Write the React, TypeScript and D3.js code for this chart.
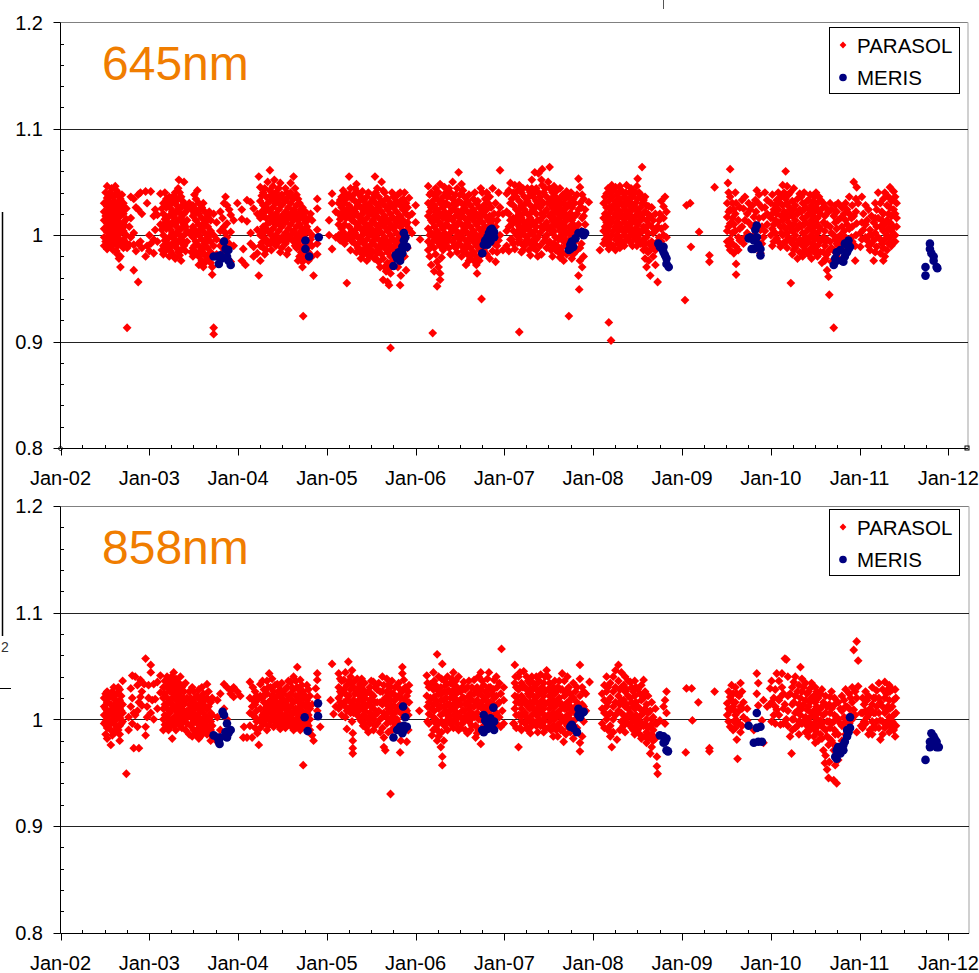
import React from "react";
import * as d3 from "d3";

// x positions are months since 1 Jan 2002; columns are [month, value, value, ...]
const xTickLabels = ["Jan-02","Jan-03","Jan-04","Jan-05","Jan-06","Jan-07","Jan-08","Jan-09","Jan-10","Jan-11","Jan-12"];
const yTickValues = [0.8, 0.9, 1.0, 1.1, 1.2];
const yTickLabels = ["0.8", "0.9", "1", "1.1", "1.2"];
const gridValues = [0.9, 1.0, 1.1];
const seriesNames = ["PARASOL", "MERIS"];
const panelTitles = ["645nm", "858nm"];

// ---------------- 645nm PARASOL ----------------
const p645_2002 = [
[5.9,1.030,1.022,1.014,1.006,0.998,0.990],
[6.3,1.046,1.035,1.027,1.019,1.011,1.003,0.995,0.987],
[6.7,1.040,1.031,1.024,1.016,1.008,1.000,0.992],
[7.1,1.036,1.028,1.020,1.012,1.004,0.996,0.986],
[7.4,1.046,1.038,1.025,1.017,1.009,1.001,0.993],
[7.7,1.040,1.030,1.022,1.014,1.006,0.998,0.990,0.982],
[8.1,1.034,1.026,1.018,1.010,1.002,0.994,0.980,0.970],
[8.5,1.030,1.020,1.012,1.004,0.996,0.988],
[8.9,1.025,1.015,1.000,0.992],
[9.0,0.913,0.988],
[9.3,1.008,0.991],
[9.5,1.036,1.016,0.998],
[9.9,1.034,1.002,0.991,0.967],
[10.2,1.026,0.985],
[10.5,1.024,1.038,0.992,0.956],
[10.8,1.040,0.994],
[11.0,0.988,1.020],
[11.5,1.041,0.980],
[11.7,1.030,0.990],
[6.1,1.040,1.030,1.018,1.006,0.994],
[6.5,1.036,1.022,1.012,0.998,0.989],
[6.9,1.044,1.027,1.013,1.003,0.990],
[7.25,1.032,1.015,1.007,0.992],
[7.55,1.042,1.021,1.003,0.985],
[7.9,1.036,1.018,1.009,0.995,0.978],
[8.3,1.038,1.023,1.007,0.991],
[8.7,1.026,1.009,0.994],
];
const p645_2003 = [
[12.0,1.000,0.985],
[12.2,1.041,0.992],
[12.6,0.996,0.983,1.018],
[12.8,1.024,1.005],
[13.1,1.019,0.994],
[13.5,1.039,1.010],
[13.9,1.030,1.020,1.010,1.000,0.990,0.982],
[14.3,1.034,1.026,1.016,1.006,0.996,0.986],
[14.7,1.036,1.028,1.018,1.008,0.998,0.988,0.980],
[15.1,1.032,1.022,1.012,1.002,0.992,0.982],
[15.5,1.040,1.030,1.020,1.010,1.000,0.990,0.978],
[15.9,1.044,1.034,1.024,1.014,1.004,0.994,0.984],
[16.0,1.052],
[16.3,1.036,1.026,1.016,1.006,0.996,0.986,0.976],
[16.7,1.050,1.030,1.020,1.010,1.000,0.990],
[17.1,1.026,1.014,1.004,0.994],
[17.4,1.030,1.002],
[17.9,1.028,1.018,1.008,0.998,0.988,0.980],
[18.3,1.034,1.024,1.014,1.004,0.994,0.984],
[18.5,1.042],
[18.7,1.030,1.020,1.010,1.000,0.990,0.980,0.972],
[19.1,1.026,1.016,1.006,0.996,0.986,0.976],
[19.5,1.022,1.012,1.002,0.992,0.982,0.974],
[19.9,1.018,1.008,0.998,0.988,0.978],
[20.3,1.014,1.004,0.994,0.984,0.974],
[20.5,0.963,0.970],
[20.7,1.020,1.000,0.990,0.913,0.907],
[21.1,1.012,0.996,0.982],
[21.6,1.022,1.004,0.990],
[22.1,1.030,1.008,0.985],
[22.5,1.028,1.011,0.998],
[23.0,1.019,1.003,0.975],
[23.4,1.014,0.990],
[23.9,1.030],
[13.7,1.025,1.005,0.986],
[14.1,1.040,1.015,0.995],
[14.5,1.030,1.012,0.992],
[14.9,1.025,1.005,0.985],
[15.3,1.037,1.017,0.997],
[15.7,1.028,1.008,0.988],
[16.1,1.040,1.021,1.000,0.981],
[16.5,1.032,1.012,0.992],
[16.9,1.022,1.008,0.985],
[17.7,1.024,1.004,0.984],
[18.1,1.038,1.020,1.000,0.990],
[18.9,1.025,1.005,0.985],
[19.3,1.030,1.008,0.988,0.970],
[19.7,1.014,0.994,0.980],
[20.1,1.022,1.000,0.979],
[21.9,1.016,0.994],
[22.3,1.036,1.002],
[22.8,1.024,0.992],
];
const p645_2004 = [
[24.5,1.024,1.015,0.976],
[24.7,0.987],
[25.0,0.972],
[25.2,1.033,1.013],
[25.7,1.031,1.002,0.992],
[26.1,1.025,0.980,0.989],
[26.6,1.020,1.005,0.983],
[26.8,1.055,0.962],
[27.0,1.045,1.032,1.016,1.000,0.990,0.976],
[27.4,1.040,1.028,1.018,1.008,0.998,0.988],
[27.8,1.036,1.026,1.016,1.006,0.996,0.986],
[28.3,1.061,1.042,1.032,1.022,1.012,1.002,0.992],
[28.7,1.046,1.036,1.026,1.016,1.006,0.996],
[29.1,1.040,1.030,1.020,1.010,1.000,0.990],
[29.5,1.044,1.034,1.024,1.014,1.004,0.994],
[29.9,1.038,1.028,1.018,1.008,0.998,0.988],
[30.4,1.044,1.032,1.022,1.012,1.002,0.992],
[30.8,1.036,1.026,1.016,1.006,0.996,0.986],
[31.1,1.049,1.040,1.030,1.020,1.010,1.000],
[31.5,1.055,1.034,1.024,1.014,1.004,0.994],
[31.9,1.038,1.028,1.018,1.008,0.998,0.988],
[32.3,1.030,1.020,1.010,1.000,0.990,0.980],
[32.7,1.026,1.016,1.006,0.996,0.985,0.975,0.970],
[32.8,0.924],
[33.1,1.022,1.012,1.002,0.992,0.982],
[33.5,1.015,1.004,0.994,0.984,0.976],
[34.0,1.014,1.000,0.990,0.980],
[34.2,0.962],
[34.7,1.034,1.025,1.005,0.992,0.982],
[27.2,1.037,1.022,1.004,0.993],
[27.6,1.044,1.022,1.003,0.982],
[28.0,1.050,1.030,1.011,0.992],
[28.5,1.038,1.018,1.000,0.986],
[28.9,1.052,1.033,1.013,0.993],
[29.3,1.036,1.016,0.996],
[29.7,1.049,1.029,1.009,0.984],
[30.1,1.034,1.014,0.995],
[30.6,1.040,1.018,0.998,0.982],
[31.3,1.036,1.016,0.996],
[31.7,1.044,1.022,1.002,0.990],
[32.1,1.034,1.014,0.994,0.976],
[32.5,1.024,1.004,0.984],
[32.9,1.018,0.998,0.978],
[33.3,1.008,0.988],
[33.8,1.020,0.996],
];
const p645_2005 = [
[36.3,1.014,1.000],
[36.7,1.039,1.030,0.987],
[37.2,1.022,0.998],
[37.6,1.030,1.020,1.010,1.000],
[38.0,1.036,1.026,1.016,1.006,0.996],
[38.4,1.040,1.030,1.020,1.010,1.000,0.992],
[38.7,0.955,1.024],
[39.0,1.055,1.038,1.028,1.018,1.008,0.998],
[39.4,1.034,1.024,1.014,1.004,0.994],
[39.8,1.044,1.032,1.022,1.012,1.002,0.992],
[40.2,1.040,1.028,1.018,1.008,0.998,0.988],
[40.6,1.036,1.026,1.016,1.006,0.996,0.986,0.978],
[41.0,1.032,1.022,1.012,1.002,0.992,0.982],
[41.4,1.036,1.026,1.016,1.006,0.996,0.986,0.976],
[41.8,1.030,1.020,1.010,1.000,0.990,0.980],
[42.2,1.034,1.024,1.014,1.004,0.994,0.984],
[42.5,1.055],
[42.6,1.040,1.030,1.020,1.010,1.000,0.990,0.978],
[43.0,1.036,1.026,1.016,1.006,0.996,0.986,0.975],
[43.4,1.050,1.032,1.022,1.012,1.002,0.992,0.982],
[43.6,0.958],
[43.8,1.040,1.028,1.018,1.008,0.998,0.988,0.970],
[44.2,1.034,1.024,1.014,1.004,0.994,0.984,0.974,0.956],
[44.4,0.953],
[44.6,1.030,1.020,1.010,1.000,0.990,0.980,0.964,0.894],
[45.0,1.036,1.026,1.016,1.006,0.996,0.986],
[45.4,1.032,1.022,1.012,1.002,0.992,0.980],
[45.9,1.040,1.028,1.018,1.008,0.998,0.988,0.953],
[46.3,1.034,1.024,1.014,1.004,0.994],
[46.7,1.030,1.020,1.010,0.967],
[47.1,1.035,1.018,1.006],
[47.5,1.020,1.002],
[48.0,1.028,1.012],
[48.6,0.996],
[37.8,1.033,1.015,0.995],
[38.2,1.042,1.022,1.003],
[38.6,1.034,1.016,0.996],
[39.2,1.044,1.022,1.002,0.986],
[39.6,1.038,1.018,0.998],
[40.0,1.048,1.026,1.006,0.984],
[40.4,1.032,1.012,0.993],
[40.8,1.041,1.020,1.000,0.982],
[41.2,1.028,1.008,0.988],
[41.6,1.040,1.022,1.002,0.982],
[42.0,1.026,1.006,0.986],
[42.4,1.038,1.018,0.998,0.978],
[42.8,1.044,1.024,1.004,0.983],
[43.2,1.030,1.010,0.990,0.970],
[43.6,1.042,1.016,0.996,0.978],
[44.0,1.034,1.012,0.992,0.966],
[44.4,1.026,1.006,0.986,0.969],
[44.8,1.040,1.016,0.996,0.975],
[45.2,1.028,1.008,0.990],
[45.6,1.038,1.016,0.996,0.970],
[46.0,1.032,1.012,0.992,0.962],
[46.5,1.040,1.026,0.998,0.980],
[46.9,1.026,1.012,0.988],
];
const p645_2006 = [
[49.7,1.046,1.030,1.018,1.006,0.994,0.986],
[50.1,1.040,1.026,1.014,1.002,0.990,0.972],
[50.3,0.908],
[50.5,1.038,1.028,1.018,1.008,0.998,0.988,0.966],
[50.9,1.034,1.024,1.014,1.004,0.994,0.975,0.952],
[51.3,1.048,1.030,1.020,1.010,1.000,0.990,0.964,0.958],
[51.7,1.036,1.026,1.016,1.006,0.996,0.986],
[52.1,1.040,1.030,1.020,1.010,1.000],
[52.5,1.044,1.028,1.018,1.008,0.998,0.988],
[53.0,1.050,1.034,1.024,1.014,1.004,0.994],
[53.4,1.038,1.028,1.018,1.008,0.998,0.988],
[53.8,1.059,1.032,1.022,1.012,1.002,0.992],
[54.2,1.048,1.030,1.020,1.010,1.000,0.990,0.980],
[54.6,1.036,1.026,1.016,1.006,0.996,0.986],
[55.0,1.032,1.022,1.012,1.002,0.992,0.982],
[55.4,1.028,1.018,1.008,0.998,0.988,0.978],
[55.8,1.034,1.024,1.014,1.004,0.994,0.984],
[56.2,1.030,1.020,1.010,1.000,0.990,0.980,0.972],
[56.3,0.964],
[56.6,1.026,1.016,1.006,0.996,0.986,0.976],
[56.9,0.940],
[57.0,1.040,1.022,1.012,1.002,0.992],
[57.4,1.034,1.018,1.008,0.998],
[57.8,1.030,1.014,1.004,0.994],
[58.2,1.026,1.010,1.000],
[58.6,1.020,1.002,0.992],
[59.0,1.014,0.990,0.984],
[59.4,1.061,1.026,1.000],
[59.8,1.020,0.986],
[49.9,1.038,1.022,1.000,0.980],
[50.3,1.032,1.012,0.994],
[50.7,1.044,1.022,1.002,0.982],
[51.1,1.040,1.018,0.997,0.970],
[51.5,1.032,1.010,0.992,0.979],
[51.9,1.045,1.022,1.002,0.990],
[52.3,1.036,1.014,0.994],
[52.7,1.040,1.022,1.002,0.982],
[53.2,1.030,1.009,0.990],
[53.6,1.044,1.022,1.003,0.984],
[54.0,1.038,1.016,0.996],
[54.4,1.042,1.024,1.004,0.985],
[54.8,1.030,1.010,0.990,0.972],
[55.2,1.038,1.016,0.996,0.976],
[55.6,1.022,1.002,0.983],
[56.0,1.040,1.018,0.997,0.975],
[56.4,1.032,1.012,0.992],
[56.8,1.044,1.020,1.000,0.981],
[57.2,1.028,1.006,0.986],
[57.6,1.040,1.024,1.000,0.982],
[58.0,1.036,1.018,0.996,0.978],
[58.4,1.044,1.014,0.985],
[58.8,1.030,1.008,0.975],
[59.2,1.040,1.020,0.995],
];
const p645_2007 = [
[60.3,1.039,1.022,1.004,0.990],
[60.8,1.049,1.030,1.014,0.996],
[61.2,1.040,1.028,1.016,1.004,0.992],
[61.4,1.047,0.987],
[61.6,1.036,1.024,1.012,1.000],
[62.0,1.047,1.032,1.020,1.008,0.996,0.909],
[62.3,1.040,1.028,1.016,1.004,0.992,0.984],
[62.7,1.036,1.024,1.012,1.000,0.990],
[63.1,1.044,1.032,1.020,1.008,0.996],
[63.5,1.040,1.028,1.016,1.004,0.992,0.981],
[63.7,1.052],
[63.9,1.036,1.024,1.012,1.000,0.988],
[64.1,1.059],
[64.3,1.044,1.032,1.020,1.008,0.996,0.986],
[64.6,1.058,1.040],
[64.8,1.036,1.026,1.014,1.002,0.990],
[65.1,1.062,1.047],
[65.3,1.040,1.030,1.018,1.006,0.994],
[65.7,1.036,1.024,1.012,1.000,0.988],
[66.1,1.064,1.044,1.030,1.018,1.006,0.994],
[66.5,1.040,1.026,1.014,1.002,0.990,0.980],
[66.9,1.036,1.022,1.010,0.998,0.986],
[67.3,1.032,1.020,1.008,0.996,0.984],
[67.7,1.036,1.024,1.012,1.000,0.988],
[68.0,1.030,1.018,1.006,0.994,0.976],
[68.4,1.041,1.026,1.014,1.002,0.990,0.982],
[68.7,0.924],
[68.8,1.030,1.020,1.008,0.996,0.984],
[69.1,1.026,1.014,1.002,0.990,0.978],
[69.5,1.030,1.018,1.006,0.994,0.984],
[70.0,1.053,1.024,1.010,0.962],
[70.1,0.949],
[70.2,1.045,1.030,0.976,0.988],
[70.5,1.038,1.016,0.970],
[70.9,1.024,1.010],
[71.4,1.031],
[60.6,1.042,1.020,1.008,0.985],
[61.0,1.034,1.010,0.996],
[61.8,1.042,1.018,1.004,0.993],
[62.2,1.026,1.014,1.000],
[62.5,1.044,1.020,1.008,0.986],
[62.9,1.030,1.006,0.994],
[63.3,1.036,1.014,1.000,0.986],
[63.7,1.044,1.022,1.010,0.994],
[64.1,1.040,1.026,1.004,0.992],
[64.5,1.030,1.014,0.998,0.980],
[65.0,1.052,1.032,1.020,1.008,0.982],
[65.5,1.044,1.022,1.010,0.998],
[65.9,1.050,1.030,1.006,0.993],
[66.3,1.034,1.020,1.008,0.986],
[66.7,1.046,1.030,1.016,1.004,0.992],
[67.1,1.042,1.026,1.014,0.990],
[67.5,1.044,1.028,1.016,1.004,0.979],
[67.9,1.038,1.022,1.010,0.983],
[68.2,1.034,1.020,1.008,0.996],
[68.6,1.036,1.016,1.002,0.988],
[69.0,1.040,1.020,1.006,0.992],
[69.3,1.034,1.010,0.998,0.982],
[69.8,1.038,1.020,1.000,0.986],
[70.4,1.026,1.004,0.992],
[70.7,1.034,1.018,0.980],
];
const p645_2008 = [
[72.9,0.986],
[73.4,1.030,1.016,1.004,0.992],
[73.8,1.039,1.026,1.012,1.000,0.992],
[74.1,1.032,1.020,1.008,0.996,0.987,0.918],
[74.4,0.901],
[74.5,1.047,1.036,1.024,1.012,1.000],
[75.0,1.045,1.032,1.020,1.008,0.996,0.986],
[75.4,1.040,1.028,1.016,1.004,0.992],
[75.8,1.042,1.030,1.018,1.006,0.994],
[76.2,1.036,1.024,1.012,1.000,0.990],
[76.5,1.047,1.032,1.020,1.008,0.996],
[76.9,1.040,1.028,1.016,1.004,0.994],
[77.3,1.036,1.024,1.012,1.000,0.990],
[77.7,1.040,1.030,1.018,1.006,0.996],
[78.0,1.053,1.034,1.022,1.010,0.998],
[78.4,1.038,1.026,1.014,1.002,0.992],
[78.6,1.064],
[78.8,1.033,1.020,1.008,0.996,0.986],
[79.2,1.028,1.014,0.998,0.986,0.970],
[79.5,1.027,1.010,0.992,0.976],
[79.7,1.018,0.986,0.962],
[80.1,1.014,1.002,0.990,0.980],
[80.7,1.008,0.994,0.956],
[81.0,1.020,0.989],
[81.5,1.027,1.016,1.000],
[81.7,1.036,1.008],
[81.9,0.998,1.022],
[73.6,1.036,1.020,1.008,0.996],
[74.0,1.044,1.016,1.004],
[74.3,1.040,1.026,1.014,0.992],
[74.7,1.042,1.028,1.016,1.004,0.990],
[75.2,1.038,1.024,1.012,1.000],
[75.6,1.046,1.034,1.022,1.010,0.998,0.988],
[76.0,1.040,1.028,1.016,1.004,0.992],
[76.4,1.040,1.028,1.016,1.004],
[76.7,1.034,1.022,1.010,0.998],
[77.1,1.044,1.030,1.018,1.006,0.994],
[77.5,1.040,1.028,1.016,1.004],
[77.9,1.046,1.024,1.012,1.000,0.990],
[78.2,1.040,1.018,1.004,0.994],
[78.6,1.030,1.016,1.004,0.992],
[79.0,1.036,1.022,1.006,0.992,0.978],
[79.4,1.020,1.002,0.984],
[79.9,1.026,1.008,0.994],
[80.4,1.020,1.004,0.986,0.972],
[80.9,1.014,0.998],
[81.2,1.032,1.006,0.994],
];
const p645_2009 = [
[84.4,0.939],
[84.6,1.028],
[85.1,1.030],
[85.2,0.989],
[86.3,1.003],
[87.7,0.981,0.975],
[88.4,1.045],
[90.1,1.030,1.017,1.004,0.994],
[90.2,1.049],
[90.5,1.062,1.036,1.024,1.011,0.996,0.986],
[91.0,1.024,1.010,0.983],
[91.3,1.030,0.989,0.973,0.963],
[91.6,1.014,0.998,0.986],
[92.1,1.033,1.008],
[92.3,1.025,0.992],
[92.8,1.020,1.002],
[93.2,1.024],
[93.7,1.017,1.000],
[93.9,1.033,1.010],
[94.1,1.042,0.995],
[94.3,1.030],
[94.6,1.005,0.983],
[95.0,1.017,0.998],
[95.5,1.033,1.020,1.010],
[90.3,1.040,1.022,1.008,0.990],
[90.8,1.030,1.016,1.002,0.992],
[91.2,1.040,1.020,1.004],
[91.8,1.026,1.006,0.995],
[92.5,1.036,1.014,0.998],
[93.0,1.030,1.012],
[93.5,1.028,1.008],
[94.0,1.022],
[94.4,1.038,1.016],
[94.8,1.026,1.008,0.992],
[95.2,1.040,1.026,1.004],
];
const p645_2010 = [
[96.0,1.030,1.016,1.000],
[96.4,1.024,1.010,0.994],
[96.8,1.033,1.020,0.997],
[97.3,1.030,1.008,0.989],
[97.6,1.047,1.028,1.014,1.000],
[98.0,1.060,1.034,1.020,1.006,0.994],
[98.4,1.038,1.027,1.012,0.998],
[98.7,0.955,1.020],
[98.9,1.032,1.018,1.004,0.992,0.982],
[99.3,1.028,1.014,1.000,0.988],
[99.9,1.039,1.024,1.010,0.996,0.984],
[100.3,1.030,1.016,1.002,0.990,0.980],
[100.7,1.026,1.012,0.998,0.986],
[101.1,1.033,1.020,1.006,0.994,0.982],
[101.5,1.028,1.014,1.000,0.988,0.978],
[101.9,1.036,1.022,1.008,0.996,0.984],
[102.3,1.030,1.016,1.002,0.990,0.980],
[102.7,1.033,1.020,1.006,0.994,0.984],
[102.9,1.025,0.974],
[103.3,1.018,1.004,0.990,0.976],
[103.6,1.010,0.996,0.982,0.967],
[103.8,1.022,0.961],
[103.9,0.944,0.986],
[104.0,1.030,1.008,0.994],
[104.5,1.018,1.000,0.986,0.913],
[104.9,1.022,1.006,0.992,0.980],
[105.4,1.016,1.000,0.986],
[105.9,1.020,1.004,0.990],
[106.3,1.024,1.010,0.994],
[106.9,1.016,0.998],
[107.2,1.050,1.018],
[107.4,0.976,0.990],
[107.6,1.045,1.011],
[107.8,1.030],
[96.2,1.038,1.020,1.006,0.990],
[96.6,1.028,1.014,1.002],
[97.0,1.040,1.024,1.012,0.994],
[97.4,1.036,1.018,1.002],
[97.8,1.040,1.022,1.008,0.993],
[98.2,1.046,1.030,1.016,1.002,0.988],
[98.6,1.040,1.024,1.008,0.995],
[99.1,1.044,1.024,1.010,0.996,0.986],
[99.6,1.034,1.020,1.006,0.992,0.978],
[100.1,1.036,1.022,1.008,0.994],
[100.5,1.040,1.024,1.010,0.996,0.985],
[100.9,1.032,1.018,1.004,0.992],
[101.3,1.038,1.024,1.010,0.998,0.986],
[101.7,1.032,1.018,1.004,0.992],
[102.1,1.040,1.026,1.012,0.998,0.986],
[102.5,1.036,1.022,1.008,0.996],
[103.1,1.030,1.012,0.998,0.984],
[103.4,1.026,1.010,0.994,0.978],
[104.2,1.024,1.002,0.988,0.975],
[104.7,1.028,1.012,0.996,0.984],
[105.1,1.030,1.014,0.998,0.990],
[105.6,1.026,1.008,0.994],
[106.1,1.030,1.014,0.998],
[106.6,1.036,1.020,1.006,0.990],
[107.0,1.028,1.008,0.994],
[107.5,1.034,1.022,1.000],
];
const p645_2011 = [
[108.1,0.989,1.002],
[108.5,1.005,1.020],
[109.0,0.995,1.014],
[109.4,1.005,0.986],
[109.9,0.976,1.012,0.995],
[110.3,1.024,1.008,0.989],
[110.8,1.030,1.008,0.996,0.983],
[111.2,1.034,1.020,1.004,0.988,0.976],
[111.7,1.028,1.014,1.000,0.986],
[112.1,1.045,1.026,1.012,0.998],
[112.6,1.041,1.024,1.008,0.994],
[113.0,1.030,1.016,1.008],
[108.3,1.036,1.012,0.996],
[108.8,1.028,1.010,0.998],
[109.2,1.024,0.999,0.990],
[109.6,1.018,1.000,0.992],
[110.1,1.030,1.016,1.002,0.984],
[110.5,1.040,1.016,0.998],
[111.0,1.022,1.014,0.992],
[111.4,1.040,1.010,0.996,0.980],
[111.9,1.036,1.020,1.006,0.992],
[112.3,1.032,1.018,1.004,0.990],
[112.8,1.036,1.020,1.000,0.994],
];

// ---------------- 645nm MERIS ----------------
const m645_2003 = [[20.7,0.980],[21.2,0.980],[21.4,0.973],[21.6,0.981],[21.8,0.978],[22.1,0.994],[22.3,0.987],[22.5,0.980],[22.7,0.986],[22.7,0.976],[23.0,0.972]];
const m645_2004 = [[33.1,0.995],[33.1,0.987],[33.6,0.980],[34.9,0.998]];
const m645_2005 = [[45.0,0.971],[45.3,0.981],[45.5,0.978],[45.7,0.984],[45.9,0.980],[45.9,0.976],[46.2,0.989],[46.2,0.983],[46.4,0.995],[46.4,1.002],[46.6,0.998],[46.8,0.989]];
const m645_2006 = [[57.0,0.983],[57.2,0.991],[57.4,0.995],[57.7,0.998],[57.7,0.991],[57.9,1.002],[58.1,1.005],[58.1,0.994],[58.3,1.006],[58.6,1.003],[58.6,0.998]];
const m645_2007 = [[68.7,0.986],[68.9,0.991],[68.9,0.987],[69.1,0.994],[69.3,0.989],[69.6,0.997],[70.0,1.002],[70.5,1.003],[70.7,1.000],[70.9,1.002]];
const m645_2008 = [[80.8,0.992],[81.0,0.989],[81.3,0.987],[81.5,0.984],[81.5,0.989],[81.7,0.981],[81.9,0.978],[81.9,0.973],[82.2,0.970]];
const m645_2009 = [[93.0,0.997],[93.2,0.998],[93.4,0.987],[93.7,0.995],[93.7,0.987],[93.9,1.005],[94.1,1.009],[94.1,0.998],[94.3,0.991],[94.6,0.987],[94.6,0.981]];
const m645_2010 = [[104.5,0.972],[104.7,0.978],[104.9,0.984],[104.9,0.976],[105.4,0.986],[105.6,0.976],[105.8,0.975],[106.0,0.980],[106.0,0.992],[106.3,0.984],[106.3,0.991],[106.5,0.995],[106.5,0.987],[106.7,0.989]];
const m645_2011 = [[116.9,0.970],[116.9,0.962],[117.5,0.992],[117.5,0.987],[117.7,0.983],[118.0,0.980],[118.0,0.976],[118.4,0.970],[118.5,0.969]];

// ---------------- 858nm PARASOL ----------------
const p858_2002 = [
[5.9,1.020,1.012,1.004,0.996],
[6.3,1.026,1.016,1.008,1.000,0.992,0.982],
[6.8,1.022,1.014,1.006,0.998,0.990,0.976],
[7.2,1.030,1.020,1.012,1.004,0.996],
[7.6,1.024,1.016,1.008,1.000,0.992],
[8.0,1.028,1.018,1.010,1.002,0.994,0.986,0.980],
[8.4,1.036,1.014,1.006,0.998],
[8.9,0.949],
[9.2,1.002,0.990],
[9.5,1.029,1.012],
[9.7,1.041,1.020,0.996],
[9.9,0.973,1.006],
[10.1,1.040,1.004],
[10.4,1.032,1.008,0.993],
[10.6,0.973,1.016],
[10.8,1.037,1.021],
[11.0,1.013,1.026],
[11.3,1.033],
[11.5,1.057,0.993,0.985],
[11.7,1.012,1.002],
[11.9,1.032,1.020],
[6.1,1.024,1.010,0.998,0.986],
[6.5,1.020,1.004,0.994],
[7.0,1.026,1.010,1.000,0.985],
[7.4,1.018,1.004,0.988],
[7.8,1.030,1.014,1.004,0.990],
[8.2,1.022,1.008,0.996],
];
const p858_2003 = [
[12.2,1.051,1.044,1.006],
[12.4,1.018],
[12.6,1.033,1.000],
[12.8,1.019],
[13.1,1.035,1.010],
[13.5,1.041,1.025],
[13.9,1.030,1.020,1.010,1.000,0.990],
[14.4,1.040,1.030,1.020,1.010,1.002,0.994],
[14.8,1.036,1.026,1.016,1.006,0.998],
[15.1,1.030,1.020,1.010,1.000,0.982],
[15.3,1.044,1.034],
[15.6,1.038,1.028,1.018,1.008,0.998,0.990],
[16.0,1.034,1.024,1.014,1.004,0.996],
[16.4,1.030,1.020,1.010,1.000,0.992],
[16.7,1.026,1.014,1.004],
[17.1,1.020,1.008,0.996],
[17.6,1.020,1.010,1.002,0.994],
[18.0,1.026,1.016,1.006,0.998,0.990],
[18.5,1.022,1.012,1.004,0.996,0.988],
[18.9,1.018,1.008,1.000,0.992,0.984],
[19.3,1.024,1.014,1.006,0.998,0.990],
[19.8,1.033,1.020,1.010,1.002,0.994,0.986],
[20.3,1.016,1.006,0.998,0.990,0.980],
[21.2,1.018,1.002,0.979],
[21.6,1.024,0.990,0.983],
[22.1,1.033,1.010],
[22.5,1.030,1.000],
[23.0,1.024,1.027],
[23.4,1.021,1.030],
[23.9,1.026],
[14.1,1.036,1.024,1.014,1.004,0.995],
[14.6,1.032,1.016,1.000,0.990],
[15.0,1.040,1.026,1.014,0.994],
[15.4,1.024,1.012,1.002,0.994],
[15.8,1.032,1.020,1.010,1.000],
[16.2,1.040,1.028,1.016,1.006,0.994],
[16.6,1.032,1.020,1.008,0.998],
[16.9,1.034,1.018,1.000,0.990],
[17.4,1.026,1.014,1.004,0.986],
[17.8,1.030,1.012,0.996,0.984],
[18.2,1.020,1.010,1.000,0.986],
[18.7,1.028,1.014,1.002,0.992,0.982],
[19.1,1.030,1.020,1.010,0.996,0.986],
[19.5,1.018,1.002,0.992],
[20.0,1.026,1.012,1.000,0.988],
[20.5,1.020,1.004,0.994,0.984],
];
const p858_2004 = [
[24.3,1.022],
[24.7,0.983],
[24.8,0.993],
[25.2,0.983],
[25.6,1.035,1.020,1.006,0.994],
[25.9,1.012,0.983],
[26.3,1.026,1.014,1.002,0.992],
[26.6,1.018,0.987],
[26.8,0.976],
[27.0,1.033,1.022,1.010,1.000,0.992],
[27.5,1.028,1.016,1.006,0.996],
[27.9,1.036,1.024,1.012,1.002,0.990],
[28.2,1.043],
[28.4,1.030,1.018,1.008,0.998],
[28.8,1.026,1.014,1.004,0.993],
[29.3,1.033,1.022,1.010,1.000],
[29.7,1.028,1.016,1.006,0.996,0.991],
[30.1,1.024,1.012,1.002,0.994],
[30.6,1.030,1.018,1.008,0.998],
[31.1,1.035,1.024,1.012,1.002,0.994],
[31.5,1.040,1.028,1.016,1.006,0.996,0.990],
[32.0,1.049,1.030,1.018,1.008,0.998],
[32.4,1.037,1.024,1.012,1.002,0.990],
[32.8,1.026,1.014,1.004,0.994,0.957],
[33.3,1.032,1.018,1.006,0.996],
[33.7,1.022,1.010,1.000,0.990],
[34.0,1.014,0.985],
[34.2,0.980],
[34.5,1.029],
[34.7,1.043,1.037,1.021,1.008],
[35.1,0.993],
[26.0,1.030,1.018,1.004],
[26.5,1.022,1.008,0.998],
[27.3,1.036,1.020,1.004,0.996],
[27.7,1.024,1.010,1.000],
[28.1,1.030,1.016,1.006,0.994],
[28.6,1.038,1.022,1.012,1.002],
[29.0,1.032,1.018,1.008,0.998],
[29.5,1.026,1.014,1.004,0.994],
[29.9,1.034,1.020,1.010,1.000],
[30.4,1.028,1.016,1.004,0.992],
[30.8,1.036,1.022,1.012,1.002],
[31.3,1.030,1.018,1.006,0.998],
[31.8,1.036,1.022,1.010,1.000,0.992],
[32.2,1.028,1.016,1.004,0.994],
[32.6,1.032,1.020,1.008,0.998],
[33.1,1.022,1.012,1.000],
[33.5,1.028,1.014,1.004,0.994],
];
const p858_2005 = [
[36.5,1.018],
[36.7,1.052],
[36.9,1.005],
[37.2,1.012],
[37.6,1.043,1.030,1.020,1.010],
[38.0,1.036,1.024,1.014,1.004],
[38.3,1.037,1.028,1.016],
[38.7,1.032,1.018,1.008,0.991],
[38.9,1.054],
[39.2,1.040,1.028,1.016,1.006],
[39.5,0.987,0.980,0.973,0.968],
[39.6,1.030,1.018,1.006],
[40.1,1.038,1.026,1.014,1.004],
[40.5,1.033,1.022,1.010,1.000],
[40.9,1.028,1.016,1.004,0.994],
[41.3,1.024,1.012,1.002,0.992],
[41.8,1.030,1.018,1.006,0.996],
[42.3,1.035,1.022,1.010,1.000,0.990],
[42.8,1.028,1.016,1.006,0.996],
[43.0,1.008,1.034],
[43.5,1.040,1.026,1.014,1.002,0.992],
[43.7,0.983,0.974],
[43.9,0.971,1.020],
[44.1,1.038,1.026,1.014,1.005,0.996],
[44.6,1.030,1.018,1.008,0.998,0.930],
[45.0,1.024,1.013,1.002,0.992],
[45.5,1.021,1.010,1.000],
[45.9,1.028,1.014,0.969],
[46.2,1.049,1.043,1.026],
[46.4,1.037,1.014,1.002],
[46.8,1.022,1.008,0.979],
[47.1,1.032,1.016],
[48.5,1.008],
[37.8,1.038,1.026,1.016],
[38.5,1.044,1.024,1.012,1.002],
[39.0,1.036,1.022,1.010],
[39.4,1.046,1.034,1.012,0.998],
[39.8,1.036,1.024,1.012],
[40.3,1.030,1.018,1.008],
[40.7,1.038,1.026,1.012,0.998],
[41.1,1.034,1.020,1.008,0.996],
[41.6,1.026,1.014,1.000,0.988],
[42.0,1.036,1.024,1.012,1.002],
[42.5,1.030,1.016,1.004,0.994],
[43.2,1.026,1.016,1.000,0.988],
[43.7,1.032,1.018,1.006],
[44.3,1.032,1.020,1.010,1.000,0.988],
[44.8,1.036,1.024,1.012,1.002,0.990],
[45.2,1.030,1.018,1.006,0.996],
[45.7,1.034,1.022,1.008,0.996],
[46.0,1.020,1.006,0.980],
[46.6,1.030,1.018,1.010,0.992],
[47.0,1.026,1.004,0.990],
];
const p858_2006 = [
[49.5,1.041,1.022],
[49.8,1.030,1.016,1.005,0.996],
[50.0,1.033,1.020],
[50.2,1.010,0.985],
[50.5,1.036,1.021,1.008,0.998],
[50.9,1.061,1.028,1.014,0.990,0.980],
[51.4,1.030,1.018,1.004,0.974],
[51.6,1.052,0.965,0.957],
[51.8,1.018,1.006,0.980],
[52.1,1.032,1.020,1.008,0.998],
[52.5,1.027,1.014,1.002],
[52.9,1.038,1.024,1.010,0.998],
[53.2,1.015,1.028,1.004],
[53.6,1.030,1.018,1.006,0.996],
[54.1,1.026,1.014,1.002,0.992],
[54.5,1.035,1.020,1.008,0.998],
[55.0,1.030,1.016,1.004,0.987],
[55.4,1.024,1.012,1.000,0.990],
[55.9,1.037,1.024,1.012,1.002],
[56.3,1.030,1.018,1.006,0.987],
[56.8,1.044,1.028,1.014,1.000,0.977],
[57.2,1.032,1.018,1.006,0.994],
[57.5,1.026,1.012,1.000],
[57.9,1.044,1.030,1.016,1.004],
[58.3,1.024,1.010],
[58.6,1.037,1.020],
[59.0,1.030,1.014],
[59.5,1.024,0.993],
[59.6,1.066],
[59.7,1.008],
[49.6,1.034,1.012,0.998],
[50.4,1.044,1.028,1.014,1.002,0.990],
[50.7,1.032,1.018,1.000,0.992],
[51.1,1.040,1.024,1.010,0.996,0.984],
[51.5,1.038,1.024,1.012,0.998,0.988],
[51.9,1.036,1.026,1.012,0.994],
[52.3,1.040,1.026,1.014,1.004,0.990],
[52.7,1.034,1.020,1.008,0.996],
[53.1,1.044,1.032,1.020,1.010,0.992],
[53.4,1.036,1.024,1.012,1.000],
[53.8,1.040,1.026,1.014,1.002,0.990],
[54.3,1.030,1.020,1.008,0.996],
[54.7,1.028,1.014,1.002,0.990],
[55.2,1.036,1.022,1.010,0.998],
[55.6,1.030,1.018,1.006,0.994],
[56.1,1.028,1.016,1.004,0.994,0.983],
[56.5,1.040,1.024,1.012,1.000,0.990],
[57.0,1.036,1.022,1.010,1.000],
[57.7,1.038,1.022,1.008,0.994],
[58.1,1.030,1.016,1.004],
[58.5,1.028,1.014,1.002],
[58.9,1.040,1.022,1.006,0.996],
[59.3,1.034,1.016,1.002],
[59.9,1.030,1.018,0.996],
];
const p858_2007 = [
[61.2,0.996],
[61.3,0.996],
[61.4,1.051,1.034,1.022,1.010],
[61.5,1.040],
[61.7,1.021],
[61.9,1.040,1.028,1.016,1.004,0.974],
[62.3,1.034,1.022,1.010,0.998,0.990],
[62.6,1.045],
[62.8,1.030,1.018,1.006,0.996],
[63.2,1.036,1.024,1.012,1.000,0.990],
[63.5,1.028,1.016,0.987],
[63.9,1.034,1.022,1.010,0.998],
[64.3,1.040,1.028,1.016,1.004,0.994],
[64.7,1.036,1.024,1.012,1.000],
[65.1,1.030,1.018,1.006,0.996],
[65.5,1.040,1.026,1.014,1.002,0.992],
[65.7,1.046],
[66.1,1.034,1.022,1.010,0.998],
[66.6,1.030,1.018,1.006,0.994,0.984],
[67.0,1.026,1.014,1.002,0.990],
[67.4,1.036,1.020,1.008,0.996],
[67.8,1.043,1.028,1.014,1.002,0.990],
[68.0,0.979],
[68.3,1.024,1.010,0.998,0.986],
[68.7,1.030,1.016,1.004,0.992],
[69.1,1.020,1.008,0.996],
[69.6,1.026,1.012,1.000,0.988],
[70.2,1.051,1.038,1.022,0.978,0.970],
[70.5,1.030,1.014,0.984],
[71.0,1.024,1.008],
[71.5,1.035],
[61.6,1.030,1.016,1.004,0.992],
[62.1,1.044,1.030,1.016,1.004,0.992],
[62.5,1.030,1.016,1.004],
[63.0,1.040,1.028,1.014,1.002,0.992],
[63.4,1.034,1.022,1.010,0.998],
[63.7,1.040,1.028,1.014,1.004,0.994],
[64.1,1.030,1.018,1.006,0.996],
[64.5,1.034,1.022,1.010,0.998,0.988],
[64.9,1.042,1.028,1.016,1.006,0.994],
[65.3,1.034,1.022,1.010,0.998,0.988],
[65.9,1.040,1.028,1.016,1.004,0.992],
[66.3,1.026,1.014,1.002,0.990],
[66.8,1.036,1.024,1.012,1.000,0.992],
[67.2,1.030,1.018,1.006,0.994,0.984],
[67.6,1.028,1.014,1.002,0.990],
[68.1,1.036,1.022,1.010,0.998],
[68.5,1.040,1.028,1.016,1.004,0.994],
[68.9,1.024,1.012,1.000,0.988],
[69.3,1.034,1.020,1.008,0.994,0.982],
[69.8,1.030,1.016,1.004,0.992],
[70.7,1.026,1.012,0.998],
];
const p858_2008 = [
[73.2,1.024,1.010,0.996],
[73.8,1.040,1.026,1.012,1.000],
[74.3,1.034,1.020,1.006,0.994,0.984],
[74.5,0.974],
[75.0,1.046,1.030,1.016,1.004],
[75.2,0.981],
[75.4,1.051,1.036,1.022,1.008],
[75.6,1.028,1.014,0.990],
[76.1,1.032,1.018,1.004,0.994],
[76.5,1.028,1.014,1.002],
[77.0,1.035,1.020,1.006,0.996],
[77.4,1.026,1.012,1.000,0.990],
[77.8,1.030,1.016,1.004,0.994],
[78.3,1.024,1.010,0.998,0.986],
[78.8,1.037,1.020,1.006,0.994],
[79.2,1.014,1.000,0.988,0.978],
[79.7,1.008,0.994,0.968],
[80.1,1.002,0.990,0.980],
[80.6,0.965,0.956,0.996],
[80.7,0.949],
[81.0,0.999],
[81.5,1.012],
[81.7,1.018,0.996],
[81.9,1.026,1.006],
[73.5,1.032,1.018,1.006,0.992],
[74.0,1.030,1.016,1.004,0.990],
[74.7,1.040,1.026,1.012,1.000,0.988],
[75.8,1.044,1.030,1.018,1.006,0.998],
[76.3,1.040,1.026,1.012,1.000,0.988],
[76.7,1.036,1.022,1.010,0.996],
[77.2,1.030,1.016,1.002,0.992],
[77.6,1.036,1.022,1.010,0.998,0.986],
[78.0,1.028,1.012,1.000,0.990],
[78.5,1.032,1.018,1.004,0.994,0.982],
[79.0,1.026,1.010,0.996,0.984],
[79.4,1.022,1.006,0.992,0.982],
[79.9,1.016,1.000,0.986,0.974],
[80.4,1.010,0.996,0.982],
];
const p858_2009 = [
[84.5,0.969],
[84.6,1.029],
[85.3,1.029],
[85.4,0.999],
[86.2,1.016],
[87.7,0.973,0.970],
[88.4,1.026],
[90.1,1.015,1.004],
[90.5,1.021,1.008,0.993],
[90.7,1.032,1.018],
[91.0,1.009,0.998],
[91.4,1.024,0.999,0.981],
[91.5,0.963],
[91.9,1.034,1.012,0.988],
[92.3,1.016,1.002],
[92.8,0.999,1.010],
[93.7,0.990],
[94.1,1.043,1.024],
[94.3,1.034,1.013],
[94.8,0.999],
[95.0,1.018,0.978],
[95.5,1.012],
[90.3,1.026,1.010,0.998],
[90.9,1.024,1.012,0.990],
[91.2,1.030,1.016,1.004,0.992],
[91.7,1.022,1.008,0.996],
[92.1,1.026,1.010,0.994],
];
const p858_2010 = [
[95.9,1.029,1.014],
[96.4,1.020,1.004],
[96.8,1.043,1.009],
[97.3,1.021,0.995],
[97.5,1.043,1.030],
[97.9,1.057,1.014],
[98.1,1.056,1.000],
[98.6,0.984,1.024],
[98.8,0.968],
[99.1,1.035,1.016,1.000],
[99.6,1.026,1.008,0.994],
[100.0,1.049,1.020,1.004],
[100.4,1.030,1.014,0.998],
[100.9,1.024,1.009,0.994],
[101.3,1.029,1.016,1.002,0.990],
[101.8,1.022,1.008,0.996,0.984],
[102.2,1.026,1.012,1.000,0.988],
[102.7,1.024,1.010,0.999,0.986],
[103.1,1.016,1.004,0.992,0.971],
[103.3,0.959],
[103.6,1.012,0.998,0.984,0.953],
[103.8,0.945,0.976],
[104.0,1.021,1.006,0.992],
[104.5,1.013,0.998,0.971,0.943],
[104.7,0.957,0.986],
[104.9,0.940,1.002],
[105.4,1.010,0.996],
[105.9,1.018,1.002],
[106.3,1.012,0.998],
[106.8,1.020,1.004],
[107.2,1.065,1.009],
[107.6,1.073,1.020,0.988],
[107.8,1.055,1.031],
[96.1,1.036,1.016,0.998],
[96.6,1.028,1.012,0.996],
[97.1,1.036,1.018,1.004],
[97.7,1.024,1.010,0.996],
[98.3,1.040,1.022,1.008,0.994],
[98.9,1.030,1.014,1.000,0.990],
[99.3,1.040,1.022,1.006,0.992],
[99.8,1.032,1.014,0.998,0.986],
[100.2,1.038,1.026,1.010,0.996],
[100.7,1.034,1.018,1.002,0.988],
[101.1,1.026,1.012,0.998,0.984],
[101.5,1.034,1.020,1.006,0.994],
[102.0,1.030,1.016,1.002,0.990,0.978],
[102.4,1.020,1.006,0.994,0.980],
[102.9,1.028,1.012,0.996,0.982],
[103.4,1.022,1.006,0.990,0.966],
[103.9,1.014,0.998,0.982,0.960],
[104.2,1.026,1.010,0.996,0.980],
[104.6,1.020,1.004,0.990,0.976],
[105.1,1.016,1.000,0.986,0.962],
[105.6,1.022,1.008,0.994,0.980],
[106.1,1.028,1.012,0.998,0.986],
[106.6,1.024,1.010,0.996],
[107.0,1.030,1.016,1.000],
[107.4,1.026,1.004],
];
const p858_2011 = [
[108.2,1.006,0.994],
[108.6,1.014,0.998],
[109.0,1.002,1.018],
[109.4,1.010,0.990],
[109.9,0.993,1.020,1.006],
[110.3,1.027,1.012,0.998],
[110.8,0.999,0.981,1.016],
[111.4,1.035,1.020,1.006,0.992],
[111.8,1.028,1.012,0.998],
[112.1,1.026,1.010,0.994],
[112.6,1.018,1.004,0.990],
[112.8,0.984,1.028],
[108.4,1.020,1.006,0.992],
[108.8,1.026,1.008,0.996],
[109.2,1.022,1.004,0.986],
[109.7,1.030,1.014,0.998,0.986],
[110.1,1.020,1.006,0.992],
[110.6,1.034,1.020,1.006,0.992],
[111.1,1.028,1.012,0.998,0.986],
[111.6,1.024,1.008,0.994],
[112.0,1.032,1.018,1.002,0.988],
[112.4,1.028,1.012,0.998],
[112.9,1.020,1.006,0.994],
];

// ---------------- 858nm MERIS ----------------
const m858_2003 = [[20.7,0.985],[21.2,0.983],[21.4,0.979],[21.5,0.977],[21.6,0.983],[21.9,1.007],[22.1,1.004],[22.3,0.988],[22.5,0.996],[22.5,0.983],[22.7,0.987],[23.0,0.990]];
const m858_2004 = [[33.0,1.002],[33.4,0.989],[34.8,1.015],[34.8,1.003]];
const m858_2005 = [[45.0,0.983],[45.5,0.990],[45.7,0.991],[45.9,0.993],[46.2,0.987],[46.3,1.012],[46.4,0.994],[46.4,0.990],[46.6,1.002],[46.8,0.993]];
const m858_2006 = [[57.0,0.990],[57.2,1.004],[57.2,0.988],[57.4,0.999],[57.7,0.996],[57.7,0.991],[57.9,0.993],[58.1,1.001],[58.3,0.996],[58.5,1.011],[58.6,0.998],[58.6,0.990]];
const m858_2007 = [[68.9,0.993],[69.1,0.995],[69.3,0.992],[69.8,0.988],[70.0,1.010],[70.0,1.004],[70.2,1.002],[70.5,1.006],[70.7,1.007]];
const m858_2008 = [[81.0,0.985],[81.5,0.984],[81.5,0.978],[81.7,0.979],[81.9,0.982],[81.9,0.971],[82.1,0.970]];
const m858_2009 = [[93.0,0.994],[93.7,0.978],[94.1,1.006],[94.1,0.992],[94.3,0.979],[94.6,0.993],[94.8,0.979]];
const m858_2010 = [[104.7,0.965],[104.9,0.971],[104.9,0.963],[105.1,0.974],[105.4,0.968],[105.6,0.973],[105.8,0.976],[105.8,0.971],[106.0,0.979],[106.3,0.984],[106.3,0.990],[106.5,0.988],[106.7,1.002],[106.7,0.992]];
const m858_2011 = [[116.9,0.962],[117.5,0.974],[117.5,0.979],[117.7,0.987],[118.0,0.984],[118.0,0.976],[118.2,0.981],[118.4,0.979],[118.4,0.974],[118.7,0.974]];

const parasol645 = [p645_2002, p645_2003, p645_2004, p645_2005, p645_2006, p645_2007, p645_2008, p645_2009, p645_2010, p645_2011];
const meris645 = [m645_2003, m645_2004, m645_2005, m645_2006, m645_2007, m645_2008, m645_2009, m645_2010, m645_2011];
const parasol858 = [p858_2002, p858_2003, p858_2004, p858_2005, p858_2006, p858_2007, p858_2008, p858_2009, p858_2010, p858_2011];
const meris858 = [m858_2003, m858_2004, m858_2005, m858_2006, m858_2007, m858_2008, m858_2009, m858_2010, m858_2011];

// helpers
const T0 = new Date(2002, 0, 1).getTime();
const DAY = 86400000;
const monthToDate = (m: number) => new Date(T0 + m * 30.4375 * DAY);
const colsToPoints = (groups: number[][][]) =>
  groups.flatMap((g) => g.flatMap((c) => c.slice(1).map((v) => ({ t: monthToDate(c[0]), v }))));
const pairsToPoints = (groups: number[][][]) =>
  groups.flatMap((g) => g.map((p) => ({ t: monthToDate(p[0]), v: p[1] })));

const FONT = "'Liberation Sans', Arial, Helvetica, sans-serif";
const RED = "#FF0000";
const NAVY = "#000080";
const ORANGE = "#F07D00";
const diamond = (s: number) => `M0,${-s}L${s},0L0,${s}L${-s},0Z`;

const xScale = d3
  .scaleTime()
  .domain([new Date(2002, 0, 1), new Date(2012, 2, 22)])
  .range([60.5, 968]);

const xMajor = d3.timeYear.range(new Date(2002, 0, 1), new Date(2012, 0, 2));
const xMinor = d3.timeMonth.every(3)!.range(new Date(2002, 0, 1), new Date(2012, 2, 22)).filter((d) => d.getMonth() !== 0);

type PanelCfg = {
  title: string;
  top: number;
  bottom: number;
  right: number;
  parasol: { t: Date; v: number }[];
  meris: { t: Date; v: number }[];
  legendTop: number;
  corners: boolean;
};

function Panel({ cfg }: { cfg: PanelCfg }) {
  const y = d3.scaleLinear().domain([0.8, 1.2]).range([cfg.bottom, cfg.top]);
  const left = 60.5;
  const minorY = d3.range(0, 21).map((i) => 0.8 + i * 0.02).filter((_, i) => i % 5 !== 0);
  const r = (n: number) => Math.round(n) + 0.5;
  const yb = r(cfg.bottom);
  const lx = 829.5;
  const lt = cfg.legendTop;
  return (
    <g>
      <line x1={left} x2={cfg.right} y1={r(cfg.top)} y2={r(cfg.top)} stroke="#808080" strokeWidth={1} />
      <line x1={cfg.right} x2={cfg.right} y1={r(cfg.top)} y2={yb} stroke="#C0C0C0" strokeWidth={1.5} />
      {gridValues.map((g) => (
        <line key={g} x1={left} x2={cfg.right} y1={r(y(g))} y2={r(y(g))} stroke="#222" strokeWidth={1} />
      ))}
      <text x={102} y={cfg.top + 57.5} fontFamily={FONT} fontSize={48} fill={ORANGE}>
        {cfg.title}
      </text>
      {cfg.parasol.map((p, i) => (
        <path key={"p" + i} d={diamond(4.4)} transform={`translate(${xScale(p.t).toFixed(2)},${y(p.v).toFixed(2)})`} fill={RED} />
      ))}
      {cfg.meris.map((p, i) => (
        <circle key={"m" + i} cx={xScale(p.t)} cy={y(p.v)} r={4.3} fill={NAVY} />
      ))}
      <line x1={left} x2={left} y1={r(cfg.top)} y2={yb} stroke="#000" strokeWidth={1} />
      {yTickValues.map((v, i) => (
        <g key={v}>
          <line x1={53.5} x2={left} y1={r(y(v))} y2={r(y(v))} stroke="#000" />
          <text x={43} y={y(v)} dy="0.36em" textAnchor="end" fontFamily={FONT} fontSize={20} fill="#000">
            {yTickLabels[i]}
          </text>
        </g>
      ))}
      {minorY.map((v) => (
        <line key={v} x1={left} x2={left + 3.5} y1={r(y(v))} y2={r(y(v))} stroke="#000" />
      ))}
      <line x1={left} x2={cfg.right} y1={yb} y2={yb} stroke="#000" strokeWidth={1} />
      {xMajor.map((d, i) => (
        <g key={i}>
          <line x1={r(xScale(d))} x2={r(xScale(d))} y1={yb} y2={yb + 7} stroke="#000" />
          <text x={xScale(d)} y={cfg.bottom + 37} textAnchor="middle" fontFamily={FONT} fontSize={20} fill="#000">
            {xTickLabels[i]}
          </text>
        </g>
      ))}
      {xMinor.map((d, i) => (
        <line key={i} x1={r(xScale(d))} x2={r(xScale(d))} y1={yb - 3.5} y2={yb} stroke="#000" />
      ))}
      {cfg.corners && (
        <g>
          <path d={diamond(2.5)} transform={`translate(${left},${yb})`} fill="none" stroke="#000" strokeWidth={1} />
          <rect x={cfg.right - 3} y={yb - 2.5} width={4} height={4} fill="none" stroke="#000" strokeWidth={1} />
        </g>
      )}
      <rect x={lx} y={lt} width={130} height={66} fill="#fff" stroke="#000" strokeWidth={1} />
      <path d={diamond(3.4)} transform={`translate(${843},${lt + 17.5})`} fill={RED} />
      <text x={857} y={lt + 25} fontFamily={FONT} fontSize={20.5} fill="#000">
        {seriesNames[0]}
      </text>
      <circle cx={843} cy={lt + 50} r={3.8} fill={NAVY} />
      <text x={857} y={lt + 57.5} fontFamily={FONT} fontSize={20.5} fill="#000">
        {seriesNames[1]}
      </text>
    </g>
  );
}

export default function App() {
  const panels: PanelCfg[] = [
    {
      title: panelTitles[0],
      top: 22.3,
      bottom: 448,
      right: 968,
      parasol: colsToPoints(parasol645),
      meris: pairsToPoints(meris645),
      legendTop: 27.5,
      corners: true,
    },
    {
      title: panelTitles[1],
      top: 506,
      bottom: 932.7,
      right: 969,
      parasol: colsToPoints(parasol858),
      meris: pairsToPoints(meris858),
      legendTop: 509.5,
      corners: false,
    },
  ];
  return (
    <svg
      width={979}
      height={973}
      viewBox="0 0 979 973"
      style={{ position: "absolute", left: 0, top: 0, background: "#fff" }}
    >
      <rect x={0} y={0} width={979} height={973} fill="#fff" />
      <line x1={2.5} x2={2.5} y1={212} y2={636} stroke="#000" strokeWidth={1.5} />
      <line x1={0} x2={11} y1={688.5} y2={688.5} stroke="#000" strokeWidth={1} />
      <text x={1} y={652} fontFamily={FONT} fontSize={14} fill="#333">2</text>
      <line x1={663.5} x2={663.5} y1={0} y2={9} stroke="#555" strokeWidth={1} />
      {panels.map((p, i) => (
        <Panel key={i} cfg={p} />
      ))}
    </svg>
  );
}
